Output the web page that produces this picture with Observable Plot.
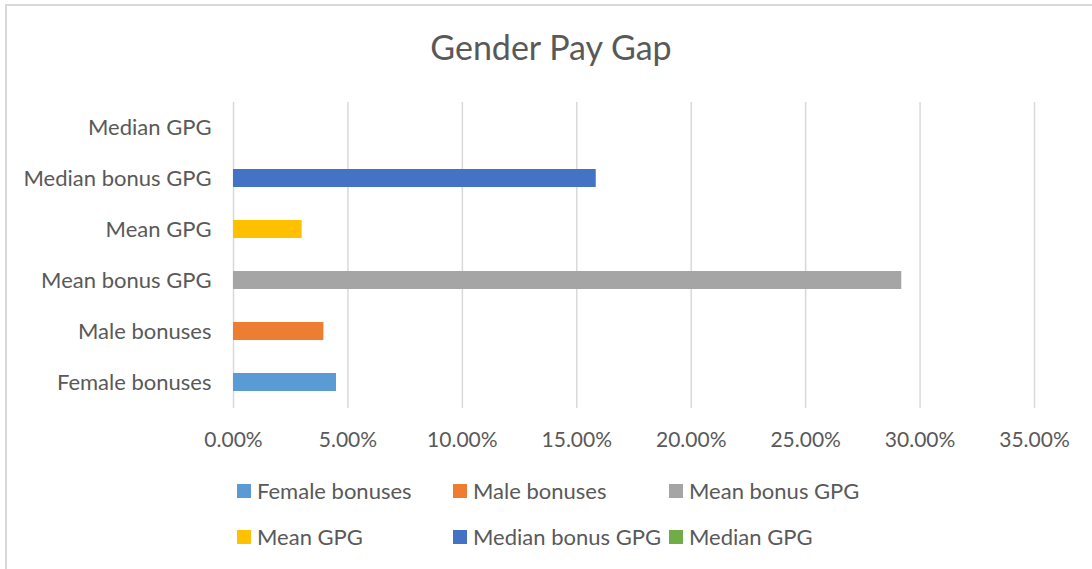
<!DOCTYPE html>
<html>
<head>
<meta charset="utf-8">
<script src="https://cdn.jsdelivr.net/npm/d3@7"></script>
<script src="https://cdn.jsdelivr.net/npm/@observablehq/plot@0.6"></script>
<style>
  body { margin: 0; background: #fff; }
  #wrap { position: relative; width: 1092px; height: 569px; overflow: hidden; font-family: Lato, "Open Sans", sans-serif; color: #595959; background: #fff; }
  #frame { position: absolute; left: 5px; top: 4px; width: 1200px; height: 700px; border: 2px solid #d9d9d9; box-sizing: border-box; }
  #title { position: absolute; left: 0; top: 27px; width: 1102px; text-align: center; font-size: 34px; line-height: 40px; }
  #chart { position: absolute; left: 0; top: 0; }
  .item { position: absolute; font-size: 22px; line-height: 24px; white-space: nowrap; }
  .sw { position: absolute; left: 0; top: 5px; width: 14px; height: 14px; }
  .lbl { position: absolute; left: 20px; top: 0; }
</style>
</head>
<body>
<div id="wrap">
  <div id="frame"></div>
  <div id="title">Gender Pay Gap</div>
  <div id="chart"></div>
  <div id="legend"></div>
</div>
<script>
const categories = ["Female bonuses", "Male bonuses", "Mean bonus GPG", "Mean GPG", "Median bonus GPG", "Median GPG"];
const values = [0.045, 0.0395, 0.292, 0.030, 0.1585, 0.0];
const colors = ["#5B9BD5", "#ED7D31", "#A5A5A5", "#FFC000", "#4472C4", "#70AD47"];
const xTicks = [0, 0.05, 0.10, 0.15, 0.20, 0.25, 0.30, 0.35];

const data = categories.map((c, i) => ({category: c, value: values[i]}));
const yOrder = categories.slice().reverse();

const plot = Plot.plot({
  width: 1092,
  height: 470,
  marginLeft: 233,
  marginRight: 58,
  marginTop: 102,
  marginBottom: 62,
  style: { fontFamily: "Lato, 'Open Sans', sans-serif", color: "#595959", background: "transparent" },
  x: { domain: [0, 0.35], ticks: xTicks },
  y: { domain: yOrder, paddingInner: 0.64, paddingOuter: 0.32 },
  color: { domain: categories, range: colors },
  marks: [
    Plot.gridX(xTicks, { stroke: "#d9d9d9", strokeOpacity: 1, strokeWidth: 1.5 }),
    Plot.barX(data, { x: "value", y: "category", fill: "category" }),
    Plot.axisX({ ticks: xTicks, tickSize: 0, tickPadding: 24, fontSize: 21, tickFormat: d => (d * 100).toFixed(2) + "%", label: null }),
    Plot.axisY({ tickSize: 0, tickPadding: 22, fontSize: 22, label: null })
  ]
});
document.getElementById("chart").appendChild(plot);

const legend = document.getElementById("legend");
categories.forEach((c, i) => {
  const col = i % 3, row = Math.floor(i / 3);
  const item = document.createElement("div");
  item.className = "item";
  item.style.left = (237 + col * 216) + "px";
  item.style.top = (479 + row * 46) + "px";
  const sw = document.createElement("div");
  sw.className = "sw";
  sw.style.background = colors[i];
  const lb = document.createElement("span");
  lb.className = "lbl";
  lb.textContent = c;
  item.appendChild(sw);
  item.appendChild(lb);
  legend.appendChild(item);
});
</script>
</body>
</html>
